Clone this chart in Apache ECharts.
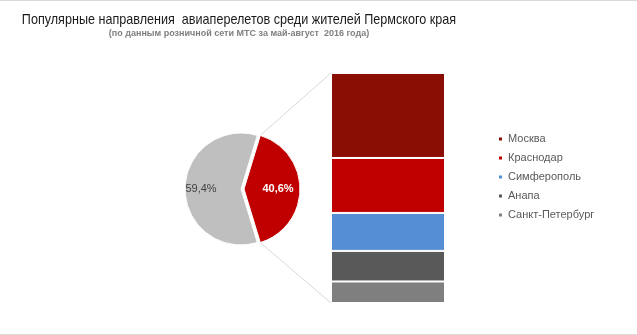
<!DOCTYPE html>
<html>
<head>
<meta charset="utf-8">
<script src="https://cdn.jsdelivr.net/npm/echarts@6/dist/echarts.min.js"></script>
<style>
  html, body { margin: 0; padding: 0; background: #fff; }
  #chart { width: 637px; height: 333px; border-top: 1px solid #d9d9d9; border-bottom: 1px solid #d9d9d9; }
</style>
</head>
<body>
<div id="chart"></div>
<script>
// данные
var titleText = 'Популярные направления  авиаперелетов среди жителей Пермского края';
var subText = '(по данным розничной сети МТС за май-август  2016 года)';
var pieNames = ['Остальные направления', 'Прочие'];
var pieValues = [40.6, 59.4];            // красный сектор (раскладывается в столбец), серый
var cities = ['Москва', 'Краснодар', 'Симферополь', 'Анапа', 'Санкт-Петербург'];
var cityValues = [15.0, 9.7, 6.7, 5.4, 3.8];
var cityColors = ['#8b0e04', '#c00000', '#558ed5', '#595959', '#7f7f7f'];

// геометрия
var pieCenter = [241, 188];
var pieRadius = 56;
var pieOffset = 3;
var gridLeft = 331, gridTop = 72, gridW = 114, gridH = 230;

var total = cityValues.reduce(function (a, b) { return a + b; }, 0);
var redAngle = pieValues[0] / (pieValues[0] + pieValues[1]) * 360;
var startAngle = redAngle / 2;   // красный сектор смотрит вправо

function pct(v) { return v.toFixed(1).replace('.', ',') + '%'; }

var chart = echarts.init(document.getElementById('chart'));

// столбец: первая серия внизу, поэтому идём с конца
var barSeries = [];
for (var i = cities.length - 1; i >= 0; i--) {
  barSeries.push({
    name: cities[i],
    type: 'bar',
    stack: 'all',
    barWidth: '100%',
    data: [cityValues[i]],
    itemStyle: { color: cityColors[i], borderColor: '#fff', borderWidth: 1 },
    emphasis: { disabled: true }
  });
}

var option = {
  animation: false,
  backgroundColor: '#fff',
  legend: {
    data: cities,
    orient: 'vertical',
    left: 497, top: 132, padding: 0,
    icon: 'rect', itemWidth: 5, itemHeight: 5, itemGap: 7,
    selectedMode: false,
    textStyle: { fontFamily: 'Liberation Sans', fontSize: 11, color: '#595959', lineHeight: 12 }
  },
  grid: { left: gridLeft, top: gridTop, width: gridW, height: gridH },
  xAxis: { type: 'category', data: [''], show: false },
  yAxis: { type: 'value', min: 0, max: total, show: false },
  series: barSeries.concat([{
    type: 'pie',
    center: pieCenter,
    radius: pieRadius,
    startAngle: startAngle,
    clockwise: true,
    selectedMode: 'single',
    selectedOffset: pieOffset,
    silent: true,
    data: [
      { name: pieNames[0], value: pieValues[0], selected: true,
        itemStyle: { color: '#c00000' },
        label: { color: '#fff', fontWeight: 'bold', padding: [0, 0, 0, 6] } },
      { name: pieNames[1], value: pieValues[1],
        itemStyle: { color: '#bfbfbf' },
        label: { color: '#404040', padding: [0, 18, 0, 0] } }
    ],
    itemStyle: { borderColor: '#fff', borderWidth: 1 },
    label: {
      show: true, position: 'inside',
      fontFamily: 'Liberation Sans', fontSize: 11,
      formatter: function (p) { return pct(p.value); }
    },
    labelLine: { show: false }
  }])
};

chart.setOption(option);

// соединительные линии от красного сектора к столбцу + заголовки
var a = startAngle * Math.PI / 180;
var apexX = pieCenter[0] + pieOffset;
var topPt = chart.convertToPixel({ xAxisIndex: 0, yAxisIndex: 0 }, [0, total]);
var botPt = chart.convertToPixel({ xAxisIndex: 0, yAxisIndex: 0 }, [0, 0]);
var lineStyle = { stroke: '#d9d9d9', lineWidth: 1 };
chart.setOption({
  graphic: [{
    type: 'text', silent: true, x: 239, y: 19, scaleX: 0.84,
    style: { text: titleText, textAlign: 'center', textVerticalAlign: 'middle',
      font: '15px "Liberation Sans"', fill: '#1a1a1a' }
  }, {
    type: 'text', silent: true, x: 239, y: 33,
    style: { text: subText, textAlign: 'center', textVerticalAlign: 'middle',
      font: 'bold 9px "Liberation Sans"', fill: '#7f7f7f' }
  }, {
    type: 'line', silent: true,
    shape: { x1: apexX + pieRadius * Math.cos(a), y1: pieCenter[1] - pieRadius * Math.sin(a), x2: gridLeft, y2: topPt[1] },
    style: lineStyle
  }, {
    type: 'line', silent: true,
    shape: { x1: apexX + pieRadius * Math.cos(a), y1: pieCenter[1] + pieRadius * Math.sin(a), x2: gridLeft, y2: botPt[1] },
    style: lineStyle
  }]
});
</script>
</body>
</html>
